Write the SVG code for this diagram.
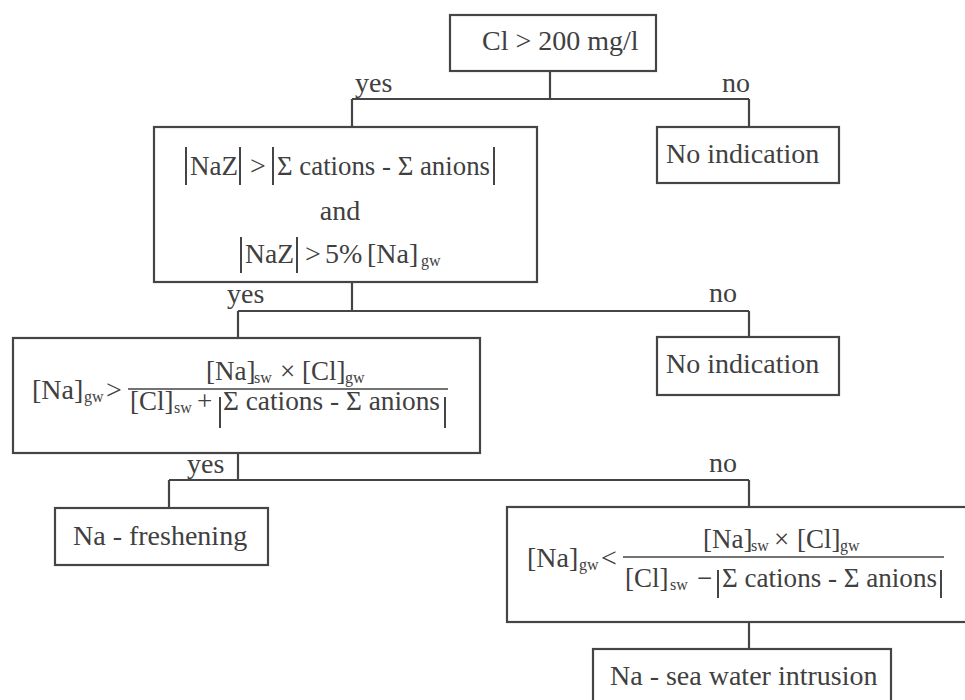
<svg xmlns="http://www.w3.org/2000/svg" width="965" height="700" viewBox="0 0 965 700" font-family="'Liberation Serif', 'Times New Roman', 'DejaVu Serif', serif">
  <style>
    .box { fill: #ffffff; stroke: #454545; stroke-width: 2.2; }
    .wire { fill: none; stroke: #454545; stroke-width: 2.2; }
    .bar { stroke: #454545; stroke-width: 1.6; }
    .bar2 { stroke: #454545; stroke-width: 2; }
    text { font-family: 'Liberation Serif', 'Times New Roman', 'DejaVu Serif', serif; font-size: 28px; fill: #404040; }
    .sub { font-size: 16px; }
    .frac { font-size: 27px; }
  </style>

  <rect width="965" height="700" fill="#ffffff"/>

  <!-- connectors -->
  <g id="connectors">
    <path class="wire" d="M550,71 V99 M352,99 H749 M352,99 V127 M749,99 V127"/>
    <path class="wire" d="M352,282 V311 M238,311 H749 M238,311 V338 M749,311 V338"/>
    <path class="wire" d="M238,453 V480 M169,480 H749 M169,480 V508 M749,480 V507"/>
    <path class="wire" d="M749,622 V649"/>
    <text x="355" y="92">yes</text>
    <text x="736" y="92" text-anchor="middle">no</text>
    <text x="227" y="303">yes</text>
    <text x="723" y="302" text-anchor="middle">no</text>
    <text x="187" y="473">yes</text>
    <text x="723" y="472" text-anchor="middle">no</text>
  </g>

  <!-- chloride test -->
  <g id="cl-test">
    <rect class="box" x="450" y="15" width="206" height="56"/>
    <text x="482" y="50">Cl &gt; 200 mg/l</text>
  </g>

  <g id="no-indication-1">
    <rect class="box" x="657" y="127" width="182" height="56"/>
    <text x="666" y="163">No indication</text>
  </g>

  <!-- NaZ test -->
  <g id="naz-test">
    <rect class="box" x="154" y="127" width="383" height="155"/>
    <line class="bar2" x1="186" y1="147" x2="186" y2="185"/>
    <text x="190" y="175" textLength="48" lengthAdjust="spacingAndGlyphs">NaZ</text>
    <line class="bar2" x1="240" y1="147" x2="240" y2="185"/>
    <text x="250" y="175">&gt;</text>
    <line class="bar2" x1="273" y1="147" x2="273" y2="185"/>
    <text x="277" y="175" textLength="213" lengthAdjust="spacingAndGlyphs">Σ cations - Σ anions</text>
    <line class="bar2" x1="494" y1="147" x2="494" y2="185"/>

    <text x="340" y="220" text-anchor="middle">and</text>

    <line class="bar2" x1="241" y1="237" x2="241" y2="273"/>
    <text x="245" y="263" textLength="49" lengthAdjust="spacingAndGlyphs">NaZ</text>
    <line class="bar2" x1="297" y1="237" x2="297" y2="273"/>
    <text x="305" y="263">&gt;</text>
    <text x="325" y="263">5%</text>
    <text x="367" y="263">[Na]</text>
    <text class="sub" x="421" y="266">gw</text>
  </g>

  <g id="no-indication-2">
    <rect class="box" x="657" y="337" width="182" height="58"/>
    <text x="666" y="373">No indication</text>
  </g>

  <!-- freshening test -->
  <g id="freshening-test">
    <rect class="box" x="13" y="338" width="467" height="115"/>
    <text x="32" y="399">[Na]</text>
    <text class="sub" x="84" y="402">gw</text>
    <text x="106" y="399">&gt;</text>
    <line class="bar" x1="128" y1="389" x2="448" y2="389"/>
    <text class="frac" x="206" y="380">[Na]</text>
    <text class="sub" x="254" y="383">sw</text>
    <text class="frac" x="280" y="380">×</text>
    <text class="frac" x="302" y="380">[Cl]</text>
    <text class="sub" x="345" y="383">gw</text>
    <text class="frac" x="130" y="410">[Cl]</text>
    <text class="sub" x="174" y="413">sw</text>
    <text class="frac" x="197" y="410">+</text>
    <line class="bar2" x1="220" y1="397" x2="220" y2="428"/>
    <text class="frac" x="223" y="410" textLength="217" lengthAdjust="spacingAndGlyphs">Σ cations - Σ anions</text>
    <line class="bar2" x1="445" y1="397" x2="445" y2="428"/>
  </g>

  <g id="na-freshening">
    <rect class="box" x="55" y="508" width="213" height="57"/>
    <text x="73" y="545">Na - freshening</text>
  </g>

  <!-- intrusion test -->
  <g id="intrusion-test">
    <rect class="box" x="507" y="507" width="462" height="115"/>
    <text x="527" y="567">[Na]</text>
    <text class="sub" x="579" y="570">gw</text>
    <text x="601" y="567">&lt;</text>
    <line class="bar" x1="623" y1="557" x2="944" y2="557"/>
    <text class="frac" x="703" y="548">[Na]</text>
    <text class="sub" x="751" y="551">sw</text>
    <text class="frac" x="774" y="548">×</text>
    <text class="frac" x="797" y="548">[Cl]</text>
    <text class="sub" x="840" y="551">gw</text>
    <text class="frac" x="625" y="587">[Cl]</text>
    <text class="sub" x="670" y="590">sw</text>
    <text class="frac" x="697" y="587">−</text>
    <line class="bar2" x1="718" y1="570" x2="718" y2="598"/>
    <text class="frac" x="722" y="587" textLength="215" lengthAdjust="spacingAndGlyphs">Σ cations - Σ anions</text>
    <line class="bar2" x1="941" y1="570" x2="941" y2="598"/>
  </g>

  <g id="na-intrusion">
    <rect class="box" x="593" y="649" width="298" height="56"/>
    <text x="610" y="685">Na - sea water intrusion</text>
  </g>
</svg>
